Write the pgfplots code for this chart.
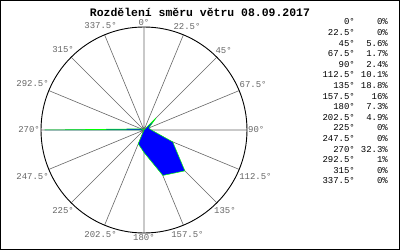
\documentclass[border=0pt]{standalone}
\usepackage{fontspec}
\setmainfont{Liberation Mono}
\setmonofont{Liberation Mono}
\usepackage{pgfplots}
\usepackage{pgfplotstable}
\usepgfplotslibrary{polar}
\pgfplotsset{compat=1.18}
\pgfplotstableread{
dir pct
0 0
22.5 0
45 5.6
67.5 1.7
90 2.4
112.5 10.1
135 18.8
157.5 16
180 7.3
202.5 4.9
225 0
247.5 0
270 32.3
292.5 1
315 0
337.5 0
360 0
}\winddata
\begin{document}
\begin{tikzpicture}[x=1bp,y=1bp]
\useasboundingbox (0,0) rectangle (400,250);
\draw[black, line width=1bp] (0.5,0.5) rectangle (399.5,249.5);
\node[font=\bfseries\fontsize{11.5}{12}\selectfont] at (200,238) {Rozdělení směru větru 08.09.2017};
\begin{polaraxis}[
  at={(144bp,120bp)}, anchor=center,
  width=206bp, height=206bp, scale only axis,
  ymin=0, ymax=33.5, ytick=\empty,
  xtick={0,22.5,...,337.5},
  xticklabels={90°,67.5°,45°,22.5°,0°,337.5°,315°,292.5°,270°,247.5°,225°,202.5°,180°,157.5°,135°,112.5°},
  xmajorgrids, major grid style={gray!80!black, line width=0.6bp},
  separate axis lines,
  x axis line style={black, line width=0.9bp},
  y axis line style={draw=none},
  major tick length=0pt,
  xticklabel style={font=\fontsize{9}{9}\selectfont, text=gray!80!black, inner sep=1bp},
]
\addplot[fill=blue, draw=green, line width=0.5bp] table[x expr={90-\thisrow{dir}}, y=pct] {\winddata};
\end{polaraxis}
\foreach \d/\p [count=\i from 0] in {0°/0\%, 22.5°/0\%, 45°/5.6\%, 67.5°/1.7\%, 90°/2.4\%, 112.5°/10.1\%, 135°/18.8\%, 157.5°/16\%, 180°/7.3\%, 202.5°/4.9\%, 225°/0\%, 247.5°/0\%, 270°/32.3\%, 292.5°/1\%, 315°/0\%, 337.5°/0\%}{
  \node[anchor=east, font=\fontsize{9}{9}\selectfont, inner sep=0pt] at (355, 228-\i*10.6) {\d};
  \node[anchor=east, font=\fontsize{9}{9}\selectfont, inner sep=0pt] at (388, 228-\i*10.6) {\p};
}
\end{tikzpicture}
\end{document}
